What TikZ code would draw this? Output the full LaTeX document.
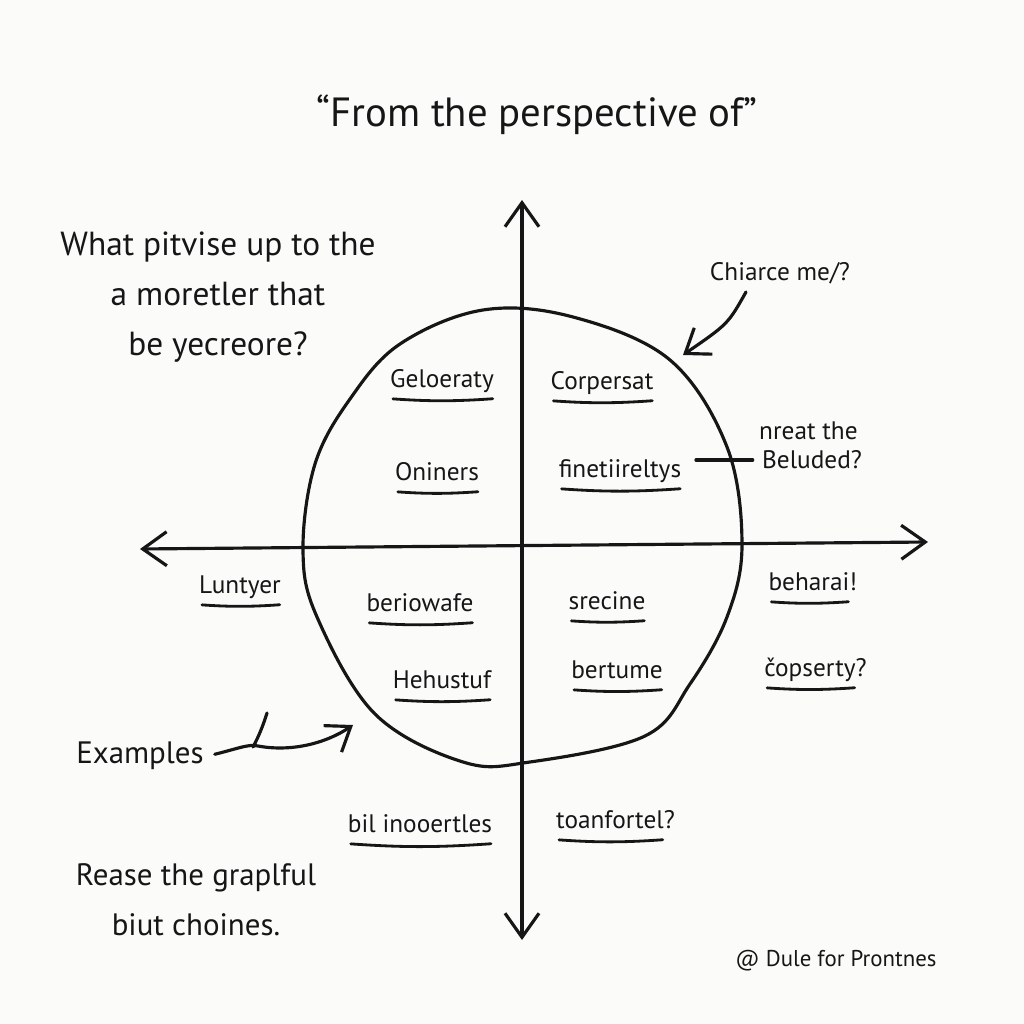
\documentclass[tikz,border=0pt]{standalone}
\usepackage{fontspec}
\setmainfont{PT Sans}
\usetikzlibrary{arrows.meta, positioning, calc}
\definecolor{sketchink}{RGB}{22, 22, 22}
\definecolor{sketchpaper}{RGB}{251, 251, 250}
\tikzset{
    pen/.style={draw=sketchink, line width=0.9pt, line cap=round, line join=round},
    barb/.style={pen, -{Straight Barb[length=2.2mm, width=3.2mm]}},
    axis/.style={pen, {Straight Barb[length=2.4mm, width=3.4mm]}-{Straight Barb[length=2.4mm, width=3.4mm]}},
    headline/.style={font=\fontsize{11.6}{13}\selectfont, text=sketchink},
    bigtext/.style={font=\fontsize{8.8}{14.2}\selectfont, text=sketchink, inner sep=1pt},
    smalltext/.style={font=\fontsize{7.2}{8.6}\selectfont, text=sketchink, inner sep=1pt},
    credit/.style={font=\fontsize{6.5}{8}\selectfont, text=sketchink},
    ulabel/.style={smalltext, text height=0.72em, text depth=0.2em,
        append after command={(\tikzlastnode.south west) edge[pen, line width=0.8pt, bend right=4, shorten <=2pt, shorten >=1.5pt] (\tikzlastnode.south east)}}
}

\begin{document}
\begin{tikzpicture}
    \fill[sketchpaper] (0,0) rectangle (10.24,10.24);
    \useasboundingbox (0,0) rectangle (10.24,10.24);

    % Title
    \node[headline] (head) at (5.37,9.09) {“From the perspective of”};

    % Axes
    \coordinate (ytop) at (5.22,8.24);
    \coordinate (ybot) at (5.22,0.84);
    \coordinate (xleft) at (1.40,4.75);
    \coordinate (xright) at (9.28,4.82);
    \draw[axis] (ybot) -- (ytop);
    \draw[axis] (xleft) -- (xright);

    % Wobbly circle
    \draw[pen] plot[smooth cycle, tension=0.6] coordinates {
        (4.83,7.14) (5.73,7.07) (6.70,6.64) (7.27,5.77) (7.42,4.79) (7.27,4.07)
        (6.90,3.40) (6.45,2.88) (5.30,2.62) (4.63,2.62) (3.75,3.10) (3.17,4.07)
        (3.03,4.74) (3.15,5.60) (3.50,6.25) (4.00,6.80)};

    % Quadrant words
    \node[ulabel] (gelo) at (4.42,6.46) {Geloeraty};
    \node[ulabel] (corp) at (6.02,6.44) {Corpersat};
    \node[ulabel] (onin) at (4.37,5.53) {Oniners};
    \node[ulabel] (fine) at (6.20,5.56) {finetiireltys};
    \node[ulabel] (lunt) at (2.40,4.40) {Luntyer};
    \node[ulabel] (beri) at (4.20,4.22) {beriowafe};
    \node[ulabel] (srec) at (6.07,4.24) {srecine};
    \node[ulabel] (hehu) at (4.42,3.45) {Hehustuf};
    \node[ulabel] (bert) at (6.17,3.55) {bertume};
    \node[ulabel] (behar) at (8.09,4.43) {beharai\rlap{!}};
    \node[ulabel] (cops) at (8.10,3.57) {čopserty\rlap{?}};
    \node[ulabel] (bilin) at (4.20,2.01) {bil inooertles};
    \node[ulabel] (toan) at (6.10,2.05) {toanfortel\rlap{?}};

    % Side notes
    \node[smalltext] (chiarce) at (7.80,7.51) {Chiarce me/?};
    \coordinate (rim) at (6.83,6.69);
    \draw[barb] ([xshift=-0.34cm, yshift=-0.04cm]chiarce.south) .. controls (7.28,7.00) .. (rim);

    \node[smalltext, anchor=west] (nreat) at (7.55,5.93) {nreat the};
    \node[smalltext, anchor=west] (belud) at (7.58,5.64) {Beluded?};
    \draw[pen, shorten <=3pt, shorten >=1.5pt] (fine.east |- belud.west) -- (belud.west);

    % Left texts
    \node[bigtext, font=\fontsize{9.5}{14.2}\selectfont, align=center] (quest) at (2.18,7.27) {What pitvise up to the\\a moretler that\\be yecreore?};

    \node[bigtext] (examples) at (1.40,2.68) {Examples};
    \coordinate (extip) at (3.53,2.99);
    \draw[barb, shorten <=2pt] (examples.east) .. controls (2.40,2.76) and (2.48,2.80) .. (2.58,2.78)
        .. controls (2.90,2.72) and (3.25,2.80) .. (extip);
    \draw[pen] (2.67,3.11) .. controls (2.63,2.98) and (2.58,2.86) .. (2.53,2.77);

    \node[bigtext, align=center] (rease) at (1.96,1.24) {Rease the graplful\\biut choines.};

    % Credit
    \node[credit] (cred) at (8.36,0.63) {@ Dule for Prontnes};

\end{tikzpicture}
\end{document}
